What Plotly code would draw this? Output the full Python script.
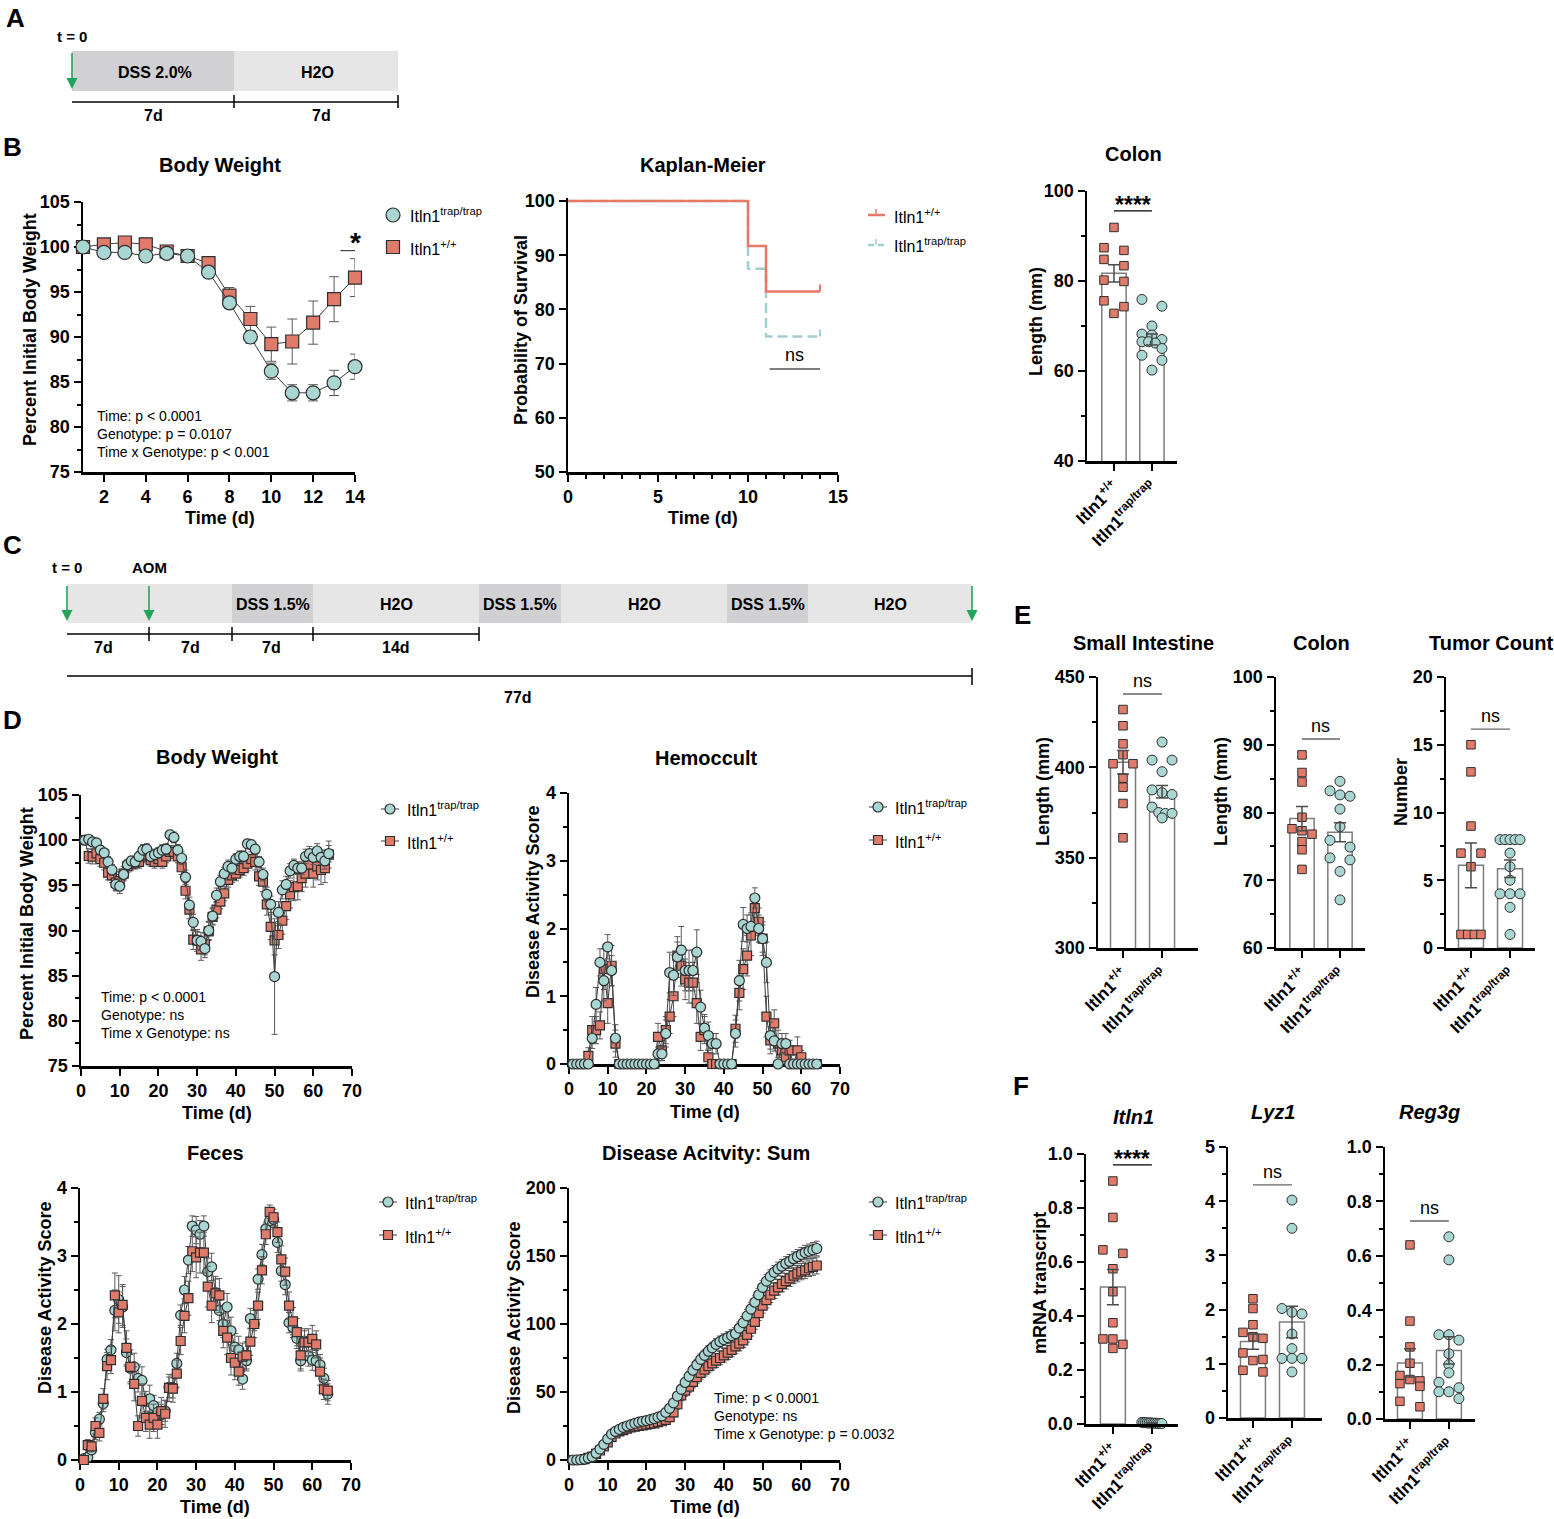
import numpy as np
import plotly.graph_objects as go

W, H = 1554, 1519
FONT = "Liberation Sans"
SALMON = "#E07B6B"
TEAL = "#A9D5D2"
EDGE = "#2E2E2E"
KM_SALMON = "#E5786A"
KM_TEAL = "#A3CFCF"
GREEN = "#22A55B"
DSS_GRAY = "#D1D1D3"
H2O_GRAY = "#E6E6E6"
LINE_GRAY = "#3C3C3C"
ERR_GRAY = "#5A5A5A"

# ====================== DATA ======================
lab_wt = "Itln1<sup>+/+</sup>"
lab_trap = "Itln1<sup>trap/trap</sup>"

# --- B: body weight (DSS 2%) ---
days_b = list(range(1, 15))
bw_b_trap = [100.0, 99.4, 99.4, 99.0, 99.3, 99.0, 97.2, 93.8, 90.0, 86.2, 83.8, 83.8, 84.9, 86.7]
bw_b_trap_sem = [0.2, 0.3, 0.3, 0.3, 0.4, 0.3, 0.5, 0.6, 0.7, 0.9, 0.9, 0.9, 1.4, 1.4]
bw_b_wt = [100.0, 100.3, 100.5, 100.3, 99.5, 99.0, 98.2, 94.6, 92.0, 89.2, 89.5, 91.6, 94.2, 96.6]
bw_b_wt_sem = [0.2, 0.3, 0.4, 0.4, 0.5, 0.4, 0.6, 0.9, 1.4, 1.9, 2.5, 2.4, 2.5, 2.1]

# --- B: Kaplan-Meier ---
km_t = [0, 10, 11, 14]
km_wt = [100.0, 91.7, 83.3, 83.3]
km_trap = [100.0, 87.5, 75.0, 75.0]

# --- B: colon length ---
colonB_wt = [91.9, 86.8, 87.4, 84.8, 83.4, 80.2, 79.9, 75.6, 74.3, 72.8]
colonB_trap = [75.9, 74.4, 70.0, 68.2, 68.0, 67.0, 66.5, 66.5, 66.2, 65.0, 63.5, 62.4, 60.2]
colonB_mean = [81.7, 67.0]
colonB_sem = [1.9, 1.2]

# --- D: AOM/DSS time courses (days 1..64) ---
days_d = list(range(1, 65))
bw_d_trap = [100.0, 100.1, 99.8, 99.7, 98.9, 98.6, 97.6, 96.7, 95.1, 94.9,
             96.2, 97.3, 97.7, 97.6, 98.2, 98.9, 99.0, 98.2, 98.4, 98.6,
             98.9, 99.0, 100.6, 100.3, 98.9, 98.0, 95.9, 92.8, 90.9, 88.9,
             88.8, 88.0, 90.0, 91.6, 93.9, 95.4, 96.3, 97.1, 96.9, 97.9,
             98.2, 98.2, 99.6, 99.5, 99.0, 97.6, 96.2, 94.0, 92.9, 84.9,
             92.0, 94.5, 95.1, 96.6, 97.2, 96.9, 96.9, 98.2, 98.5, 98.1,
             98.8, 98.1, 97.7, 98.5]
bw_d_trap_sem = [0.3, 0.4, 0.4, 0.5, 0.5, 0.5, 0.6, 0.6, 0.7, 0.8,
                 0.6, 0.5, 0.5, 0.5, 0.5, 0.6, 0.6, 0.6, 0.6, 0.6,
                 0.6, 0.6, 0.5, 0.6, 0.6, 0.7, 0.8, 0.9, 0.9, 1.0,
                 1.0, 1.0, 1.0, 0.9, 0.8, 0.7, 0.7, 0.7, 0.7, 0.6,
                 0.6, 0.6, 0.5, 0.5, 0.5, 0.6, 0.7, 0.8, 0.9, 6.4,
                 1.2, 1.0, 0.9, 0.8, 0.7, 0.7, 0.7, 0.8, 0.8, 0.8,
                 0.8, 0.8, 0.9, 0.9]
bw_d_wt = [100.0, 98.25, 98.17, 98.54, 97.9, 97.5, 96.4, 96.1, 95.3, 95.5,
           96.3, 97.1, 97.4, 97.5, 97.6, 98.2, 98.4, 97.8, 97.6, 97.9,
           97.6, 98.2, 98.7, 98.7, 98.2, 97.0, 94.4, 92.3, 89.0, 88.9,
           87.9, 88.5, 89.9, 91.5, 92.3, 93.2, 94.1, 95.6, 96.1, 96.3,
           96.7, 96.9, 97.4, 97.9, 97.6, 96.0, 95.4, 92.9, 90.4, 88.9,
           89.5, 91.1, 92.7, 94.0, 94.8, 94.9, 95.8, 96.3, 97.3, 96.3,
           97.1, 96.7, 96.9, 98.4]
bw_d_wt_sem = [0.0, 0.8, 0.8, 0.8, 0.8, 0.8, 0.8, 0.8, 0.9, 1.0,
               0.8, 0.7, 0.7, 0.7, 0.7, 0.7, 0.7, 0.7, 0.7, 0.7,
               0.7, 0.7, 0.7, 0.7, 0.7, 0.8, 0.9, 1.0, 1.1, 1.2,
               1.2, 1.2, 1.0, 0.9, 0.9, 0.8, 0.8, 0.8, 0.8, 0.8,
               0.8, 0.8, 0.8, 0.8, 0.9, 1.0, 1.1, 1.2, 1.4, 1.6,
               1.5, 1.5, 1.5, 1.5, 1.5, 1.5, 1.5, 1.5, 1.5, 1.5,
               1.5, 1.6, 1.6, 1.5]

hemo_trap = [0, 0, 0, 0, 0, 0.38, 0.88, 1.5, 1.23, 1.73,
             1.38, 0.38, 0, 0, 0, 0, 0, 0, 0, 0,
             0, 0, 0.15, 0.15, 0.45, 1.35, 1.31, 1.58, 1.68, 1.38,
             1.38, 1.38, 1.65, 0.84, 0.53, 0.42, 0.30, 0.30, 0, 0,
             0, 0, 0.45, 1.23, 2.06, 2.0, 2.03, 2.45, 2.0, 1.85,
             1.5, 0.42, 0.34, 0, 0.3, 0.3, 0, 0, 0, 0,
             0, 0, 0, 0]
hemo_trap_sem = [0, 0, 0, 0, 0, 0.15, 0.25, 0.2, 0.3, 0.18,
                 0.22, 0.2, 0, 0, 0, 0, 0, 0, 0, 0,
                 0, 0, 0.1, 0.1, 0.2, 0.3, 0.3, 0.3, 0.35, 0.3,
                 0.3, 0.3, 0.33, 0.25, 0.2, 0.2, 0.15, 0.15, 0, 0,
                 0, 0, 0.2, 0.3, 0.25, 0.2, 0.2, 0.15, 0.2, 0.2,
                 0.3, 0.2, 0.15, 0, 0.15, 0.15, 0, 0, 0, 0,
                 0, 0, 0, 0]
hemo_wt = [0, 0, 0, 0, 0.12, 0.5, 0.5, 0.57, 1.4, 0.9,
           1.45, 0.3, 0, 0, 0, 0, 0, 0, 0, 0,
           0, 0, 0.4, 0.2, 0.5, 0.7, 1.0, 1.6, 1.45, 1.25,
           1.2, 1.2, 0.9, 0.4, 0.5, 0.1, 0, 0, 0, 0,
           0, 0, 0.52, 1.05, 1.4, 1.6, 1.9, 2.3, 2.1, 1.85,
           0.7, 0.35, 0.6, 0.3, 0.2, 0.1, 0.2, 0, 0.2, 0.1,
           0, 0, 0, 0]
hemo_wt_sem = [0, 0, 0, 0, 0.12, 0.2, 0.2, 0.2, 0.3, 0.3,
               0.3, 0.2, 0, 0, 0, 0, 0, 0, 0, 0,
               0, 0, 0.2, 0.15, 0.2, 0.25, 0.3, 0.2, 0.3, 0.3,
               0.3, 0.3, 0.3, 0.2, 0.2, 0.1, 0, 0, 0, 0,
               0, 0, 0.2, 0.25, 0.3, 0.3, 0.3, 0.2, 0.2, 0.25,
               0.3, 0.2, 0.2, 0.2, 0.15, 0.1, 0.15, 0, 0.2, 0.1,
               0, 0, 0, 0]

feces_trap = [0.02, 0.04, 0.15, 0.4, 0.6, 0.83, 1.48, 1.62, 2.2, 2.36,
              2.25, 1.58, 1.35, 1.37, 1.2, 1.17, 0.86, 0.9, 0.8, 0.7,
              0.67, 0.72, 1.07, 1.06, 1.42, 2.13, 2.5, 2.94, 3.44, 3.38,
              3.32, 3.44, 2.77, 2.84, 2.46, 2.2, 2.0, 2.25, 1.9, 1.66,
              1.62, 1.19, 1.46, 2.08, 2.0, 2.66, 3.02, 3.4, 3.52, 3.54,
              3.2, 2.78, 2.58, 2.02, 1.95, 1.79, 1.46, 1.75, 1.53, 1.47,
              1.46, 1.4, 1.2, 0.97]
feces_trap_sem = [0.02, 0.03, 0.05, 0.1, 0.1, 0.12, 0.15, 0.15, 0.3, 0.35,
                  0.3, 0.2, 0.2, 0.2, 0.2, 0.2, 0.15, 0.2, 0.15, 0.15,
                  0.15, 0.15, 0.15, 0.15, 0.15, 0.15, 0.2, 0.2, 0.15, 0.2,
                  0.2, 0.15, 0.2, 0.2, 0.2, 0.15, 0.2, 0.2, 0.2, 0.2,
                  0.2, 0.15, 0.15, 0.15, 0.1, 0.15, 0.15, 0.1, 0.1, 0.1,
                  0.15, 0.15, 0.15, 0.15, 0.15, 0.15, 0.15, 0.15, 0.15, 0.15,
                  0.15, 0.15, 0.15, 0.15]
feces_wt = [0.0, 0.22, 0.2, 0.5, 0.4, 0.9, 1.38, 1.47, 2.42, 2.17,
            2.28, 1.65, 1.37, 1.12, 0.5, 0.87, 0.62, 0.52, 0.62, 0.52,
            0.72, 0.68, 1.06, 1.05, 1.27, 1.75, 2.12, 2.38, 3.07, 2.98,
            3.05, 3.05, 2.55, 2.27, 2.45, 2.42, 1.9, 1.8, 1.5, 1.43,
            1.3, 1.52, 1.54, 1.74, 2.0, 2.27, 2.79, 3.32, 3.65, 3.57,
            3.35, 2.95, 2.77, 2.27, 2.04, 1.88, 1.54, 1.73, 1.73, 1.78,
            1.7, 1.3, 1.04, 1.02]
feces_wt_sem = [0.0, 0.08, 0.08, 0.12, 0.12, 0.15, 0.2, 0.2, 0.33, 0.3,
                0.3, 0.25, 0.25, 0.25, 0.15, 0.25, 0.2, 0.2, 0.2, 0.2,
                0.2, 0.2, 0.2, 0.2, 0.2, 0.2, 0.25, 0.25, 0.3, 0.3,
                0.3, 0.3, 0.3, 0.25, 0.25, 0.25, 0.25, 0.25, 0.25, 0.25,
                0.2, 0.2, 0.2, 0.2, 0.2, 0.2, 0.2, 0.15, 0.1, 0.12,
                0.15, 0.2, 0.2, 0.2, 0.2, 0.2, 0.2, 0.2, 0.2, 0.2,
                0.2, 0.2, 0.15, 0.15]

dai_trap = [0, 0, 0.2, 0.6, 1.5, 2.5, 5, 8, 11.5, 15.5,
            19, 21, 22.5, 24, 25, 26, 27, 27.8, 28.5, 29,
            29.7, 30.5, 31.5, 32.5, 35, 38, 42, 47, 52, 57,
            61.5, 66, 70, 74, 77, 80, 82.5, 85, 87, 88.5,
            90, 91.5, 93, 97, 101, 106, 111, 116, 121.5, 127,
            131.5, 135, 138, 140.5, 142.5, 144.5, 146, 148, 149.5, 151,
            152.5, 153.5, 154.5, 155.5]
dai_trap_sem = [0, 0, 0.1, 0.2, 0.3, 0.5, 0.8, 1.0, 1.2, 1.4,
                1.5, 1.6, 1.7, 1.8, 1.9, 2.0, 2.0, 2.1, 2.1, 2.2,
                2.2, 2.3, 2.3, 2.4, 2.5, 2.7, 2.9, 3.1, 3.3, 3.5,
                3.6, 3.7, 3.8, 3.9, 4.0, 4.1, 4.1, 4.2, 4.2, 4.3,
                4.3, 4.4, 4.4, 4.5, 4.5, 4.6, 4.6, 4.7, 4.7, 4.8,
                4.8, 4.9, 4.9, 5.0, 5.0, 5.0, 5.1, 5.1, 5.2, 5.2,
                5.3, 5.3, 5.4, 5.4]
dai_wt = [0, 0, 0.2, 0.6, 1.5, 2.5, 4.5, 7, 10, 13,
          17, 19.5, 21, 22, 23, 24, 24.5, 25, 25.5, 26,
          26.5, 27, 27.8, 28.5, 29.5, 31.5, 35, 41, 47.5, 51,
          54, 57.5, 61, 64, 66.5, 69, 71, 73, 75, 77,
          79, 81, 83.5, 85.5, 88, 92, 96.5, 101.5, 108, 113.5,
          117.5, 121.5, 124.5, 127, 129.5, 131.5, 133.5, 135.5, 137, 138.5,
          139.5, 141, 142, 143]
dai_wt_sem = [0, 0, 0.1, 0.2, 0.4, 0.6, 0.9, 1.1, 1.4, 1.6,
              1.8, 1.9, 2.0, 2.1, 2.2, 2.3, 2.3, 2.4, 2.4, 2.5,
              2.5, 2.6, 2.6, 2.7, 2.8, 3.0, 3.3, 3.6, 3.9, 4.1,
              4.2, 4.4, 4.5, 4.6, 4.7, 4.8, 4.8, 4.9, 4.9, 5.0,
              5.0, 5.1, 5.1, 5.2, 5.2, 5.3, 5.4, 5.4, 5.5, 5.5,
              5.6, 5.6, 5.7, 5.7, 5.8, 5.8, 5.9, 5.9, 6.0, 6.0,
              6.1, 6.1, 6.2, 6.2]

# --- E: endpoint measurements ---
si_wt = [432, 423, 413, 407, 402, 402, 394, 389, 380, 361]
si_trap = [414, 404, 404, 397.6, 387.5, 386, 385, 378, 375, 374.5, 374.5, 372]
si_mean = [402.8, 386.5]
si_sem = [6.5, 3.5]

colE_wt = [88.5, 85.9, 84.5, 79.3, 77.6, 77.3, 76.8, 75.7, 74.5, 71.6]
colE_trap = [84.6, 83.2, 82.6, 82.4, 80.5, 77.9, 75.9, 74.9, 73.3, 73.0, 71.3, 67.1]
colE_mean = [79.1, 77.1]
colE_sem = [1.8, 1.4]

tum_wt = [15, 13, 9, 7, 7, 6, 1, 1, 1, 1]
tum_trap = [8, 8, 8, 8, 8, 7, 6, 5, 4, 4, 4, 3, 1]
tum_mean = [6.1, 5.85]
tum_sem = [1.65, 0.65]

# --- F: qPCR ---
itln_wt = [0.9, 0.765, 0.645, 0.632, 0.575, 0.49, 0.375, 0.315, 0.315, 0.295, 0.28]
itln_trap = [0.006, 0.005, 0.005, 0.004, 0.004, 0.004, 0.003, 0.003, 0.003, 0.002, 0.002, 0.002]
itln_mean = [0.507, 0.004]
itln_sem = [0.065, 0.001]

lyz_wt = [2.2, 2.02, 1.72, 1.58, 1.5, 1.47, 1.2, 1.08, 1.06, 0.88, 0.85]
lyz_trap = [4.02, 3.5, 2.02, 1.95, 1.92, 1.55, 1.28, 1.1, 1.1, 1.1, 0.85]
lyz_mean = [1.41, 1.77]
lyz_sem = [0.14, 0.29]

reg_wt = [0.64, 0.36, 0.265, 0.205, 0.16, 0.145, 0.14, 0.13, 0.12, 0.065, 0.045]
reg_trap = [0.67, 0.585, 0.31, 0.31, 0.29, 0.24, 0.2, 0.17, 0.135, 0.115, 0.1, 0.1, 0.075]
reg_mean = [0.206, 0.252]
reg_sem = [0.052, 0.05]


# ====================== HELPERS ======================
def PX(x):
    return x / W


def PY(y):
    return 1 - y / H


def fnt(size, bold=True):
    return dict(family=FONT, size=size, color="black", weight="bold" if bold else "normal")


def axis_base():
    return dict(showgrid=False, zeroline=False, showline=True, linecolor="black", linewidth=2.5,
                ticks="outside", ticklen=7, tickwidth=2, tickcolor="black", automargin=False,
                tickfont=fnt(18), fixedrange=True)


def minor(d):
    return dict(ticks="outside", ticklen=4, tickwidth=2, tickcolor="black", dtick=d, showgrid=False)


layout = dict(template="none", width=W, height=H, margin=dict(l=0, r=0, t=0, b=0, pad=0),
              autosize=False, paper_bgcolor="white", plot_bgcolor="rgba(0,0,0,0)", showlegend=False,
              font=dict(family=FONT, color="black"))
traces = []
shapes = []
annots = []


def names(i):
    s = "" if i == 1 else str(i)
    return "xaxis" + s, "yaxis" + s, "x" + s, "y" + s


def add_axes(i, xpx, ypx, xr, yr, xkw, ykw, layer="below traces"):
    xn, yn, xs, ys = names(i)
    xa = axis_base()
    xa.update(domain=[PX(xpx[0]), PX(xpx[1])], range=xr, anchor=ys, layer=layer)
    xa.update(xkw)
    ya = axis_base()
    ya.update(domain=[PY(ypx[1]), PY(ypx[0])], range=yr, anchor=xs, layer=layer)
    ya.update(ykw)
    layout[xn] = xa
    layout[yn] = ya
    return xs, ys


def ann(x, y, text, size, bold=True, xanchor="center", yanchor="middle", angle=0):
    annots.append(dict(x=PX(x), y=PY(y), xref="paper", yref="paper", text=text, showarrow=False,
                       xanchor=xanchor, yanchor=yanchor, textangle=angle, font=fnt(size, bold)))


def pline(x0, y0, x1, y1, color="black", width=1.5, dash=None):
    ln = dict(color=color, width=width)
    if dash:
        ln["dash"] = dash
    shapes.append(dict(type="line", xref="paper", yref="paper", x0=PX(x0), y0=PY(y0),
                       x1=PX(x1), y1=PY(y1), line=ln))


def prect(x0, y0, x1, y1, fill):
    shapes.append(dict(type="rect", xref="paper", yref="paper", x0=PX(x0), y0=PY(y1),
                       x1=PX(x1), y1=PY(y0), fillcolor=fill, line=dict(width=0), layer="below"))


def pcircle(cx, cy, r, fill, lw=1.2):
    shapes.append(dict(type="circle", xref="paper", yref="paper", x0=PX(cx - r), x1=PX(cx + r),
                       y0=PY(cy + r), y1=PY(cy - r), fillcolor=fill, line=dict(color=EDGE, width=lw)))


def psquare(cx, cy, r, fill, lw=1.2):
    shapes.append(dict(type="rect", xref="paper", yref="paper", x0=PX(cx - r), x1=PX(cx + r),
                       y0=PY(cy + r), y1=PY(cy - r), fillcolor=fill, line=dict(color=EDGE, width=lw)))


def arrow_down(x, y0, y1):
    pline(x, y0, x, y1 - 9, GREEN, 1.6)
    path = "M {} {} L {} {} L {} {} Z".format(PX(x - 5.5), PY(y1 - 11), PX(x + 5.5), PY(y1 - 11),
                                               PX(x), PY(y1))
    shapes.append(dict(type="path", xref="paper", yref="paper", path=path, fillcolor=GREEN,
                       line=dict(width=0)))


def ts_trace(xs, ys, x, y, err, sym, fill, size, lw=1.0, cap=3):
    return go.Scatter(x=x, y=y, xaxis=xs, yaxis=ys, mode="lines+markers",
                      line=dict(color=LINE_GRAY, width=lw),
                      marker=dict(symbol=sym, size=size, color=fill, line=dict(color=EDGE, width=1.2)),
                      error_y=dict(type="data", array=err, visible=True, color=ERR_GRAY,
                                   thickness=1, width=cap),
                      cliponaxis=False, showlegend=False, hoverinfo="skip")


def swarm(vals, yppu, thresh=7.5, spread=20.0, maxstep=20.0):
    """GraphPad-like scatter: points with nearly equal values are spread side by side."""
    order = sorted(range(len(vals)), key=lambda j: -vals[j])
    offs = [0.0] * len(vals)
    clusters = []
    for j in order:
        y = vals[j] * yppu
        if clusters and abs(clusters[-1][0] - y) < thresh:
            clusters[-1][1].append(j)
        else:
            clusters.append([y, [j]])
    for _, members in clusters:
        n = len(members)
        if n == 1:
            continue
        step = min(maxstep, spread / (n - 1))
        for k, j in enumerate(members):
            offs[j] = (k - (n - 1) / 2) * step
    return offs


# ====================== PANEL A / C TIMELINES ======================
ann(15, 18, "A", 26)
ann(12, 147, "B", 26)
ann(12, 545, "C", 26)
ann(12, 720, "D", 26)
ann(1022, 615, "E", 26)
ann(1021, 1086, "F", 26)

prect(72, 51, 234, 91, DSS_GRAY)
prect(234, 51, 398, 91, H2O_GRAY)
ann(155, 72, "DSS 2.0%", 16)
ann(317, 72, "H2O", 16)
pline(72, 102, 398, 102)
pline(234, 95, 234, 108)
pline(398, 95, 398, 108)
ann(153, 115, "7d", 16)
ann(321, 115, "7d", 16)
ann(72, 36, "t = 0", 15)
arrow_down(72, 53, 89)

c_segments = [(67, 232, H2O_GRAY, ""), (232, 313, DSS_GRAY, "DSS 1.5%"), (313, 479, H2O_GRAY, "H2O"),
              (479, 561, DSS_GRAY, "DSS 1.5%"), (561, 727, H2O_GRAY, "H2O"),
              (727, 808, DSS_GRAY, "DSS 1.5%"), (808, 972, H2O_GRAY, "H2O")]
for x0, x1, col, txt in c_segments:
    prect(x0, 584, x1, 623, col)
    if txt:
        ann((x0 + x1) / 2, 604, txt, 16)
ann(67, 568, "t = 0", 15)
ann(149, 568, "AOM", 15)
arrow_down(67, 586, 621)
arrow_down(149, 586, 621)
arrow_down(972, 586, 621)
pline(67, 634, 479, 634)
for xt in (149, 232, 313, 479):
    pline(xt, 627, xt, 641)
for xt, txt in ((103, "7d"), (190, "7d"), (271, "7d"), (396, "14d")):
    ann(xt, 647, txt, 16)
pline(67, 676, 972, 676)
pline(972, 668, 972, 685)
ann(518, 697, "77d", 16)

# ====================== B: BODY WEIGHT ======================
xs, ys = add_axes(1, (83, 355), (202, 472), [1, 14], [75, 105],
                  dict(tickmode="linear", tick0=0, dtick=2),
                  dict(tickmode="linear", tick0=75, dtick=5, minor=minor(2.5)))
traces.append(ts_trace(xs, ys, days_b, bw_b_wt, bw_b_wt_sem, "square", SALMON, 13, lw=1.0, cap=5))
traces.append(ts_trace(xs, ys, days_b, bw_b_trap, bw_b_trap_sem, "circle", TEAL, 14, lw=1.0, cap=5))
shapes.append(dict(type="line", xref=xs, yref=ys, x0=13.3, x1=14.65, y0=99.6, y1=99.6,
                   line=dict(color="#444", width=1.2)))
annots.append(dict(x=14, y=99.6, xref=xs, yref=ys, text="*", showarrow=False, yanchor="bottom",
                   yshift=-9, font=fnt(28)))
ann(220, 165, "Body Weight", 20)
ann(220, 518, "Time (d)", 18)
ann(30, 330, "Percent Initial Body Weight", 18, angle=-90)
ann(95, 416, "Time: p < 0.0001", 14, bold=False, xanchor="left")
ann(95, 434, "Genotype: p = 0.0107", 14, bold=False, xanchor="left")
ann(95, 452, "Time x Genotype: p < 0.001", 14, bold=False, xanchor="left")
pcircle(393, 215, 7, TEAL)
psquare(393, 247, 6.5, SALMON)
ann(408, 215, lab_trap, 16, bold=False, xanchor="left")
ann(408, 248, lab_wt, 16, bold=False, xanchor="left")

# ====================== B: KAPLAN-MEIER ======================
# small headroom above 100 so the 100 % lines are not clipped
xs, ys = add_axes(2, (568, 838), (198.3, 472), [0, 15], [50, 100.5],
                  dict(tickmode="linear", tick0=0, dtick=5, minor=minor(1)),
                  dict(tickmode="linear", tick0=50, dtick=10))
traces.append(go.Scatter(x=km_t, y=km_trap, xaxis=xs, yaxis=ys, mode="lines", line_shape="hv",
                         line=dict(color=KM_TEAL, width=2.5, dash="10px,5px"), showlegend=False,
                         hoverinfo="skip", cliponaxis=False))
traces.append(go.Scatter(x=km_t, y=km_wt, xaxis=xs, yaxis=ys, mode="lines", line_shape="hv",
                         line=dict(color=KM_SALMON, width=2.5), showlegend=False,
                         hoverinfo="skip", cliponaxis=False))
for col, series in ((KM_TEAL, km_trap), (KM_SALMON, km_wt)):
    shapes.append(dict(type="line", xref=xs, yref=ys, x0=km_t[-1], x1=km_t[-1],
                       y0=series[-1], y1=series[-1] + 1.3, line=dict(color=col, width=2)))
shapes.append(dict(type="line", xref=xs, yref=ys, x0=11.2, x1=14, y0=69.0, y1=69.0,
                   line=dict(color="black", width=1.2)))
annots.append(dict(x=12.6, y=69.0, xref=xs, yref=ys, text="ns", showarrow=False, yanchor="bottom",
                   yshift=2, font=fnt(18, False)))
ann(703, 165, "Kaplan-Meier", 20)
ann(703, 518, "Time (d)", 18)
ann(521, 330, "Probability of Survival", 18, angle=-90)
pline(868, 215, 885, 215, KM_SALMON, 2.5)
pline(876, 209, 876, 215, KM_SALMON, 1.5)
pline(868, 245, 885, 245, KM_TEAL, 2.5, dash="6px,4px")
pline(876, 239, 876, 245, KM_TEAL, 1.5)
ann(892, 216, lab_wt, 16, bold=False, xanchor="left")
ann(892, 245, lab_trap, 16, bold=False, xanchor="left")

# ====================== BAR PANELS ======================
bar_cfg = [
    dict(i=3, wt=colonB_wt, trap=colonB_trap, mean=colonB_mean, sem=colonB_sem,
         xpx=(1087, 1177), ypx=(191, 461), xr=[-0.71, 1.66], yr=[40, 100], dt=20, mn=10,
         sy=95.6, st="****", fmt=None),
    dict(i=8, wt=si_wt, trap=si_trap, mean=si_mean, sem=si_sem,
         xpx=(1098, 1198), ypx=(677, 948), xr=[-0.64, 1.92], yr=[300, 450], dt=50, mn=25,
         sy=440.6, st="ns", fmt=None),
    dict(i=9, wt=colE_wt, trap=colE_trap, mean=colE_mean, sem=colE_sem,
         xpx=(1276, 1365), ypx=(677, 948), xr=[-0.684, 1.658], yr=[60, 100], dt=10, mn=5,
         sy=90.85, st="ns", fmt=None),
    dict(i=10, wt=tum_wt, trap=tum_trap, mean=tum_mean, sem=tum_sem,
         xpx=(1446, 1535), ypx=(677, 948), xr=[-0.64, 1.64], yr=[0, 20], dt=5, mn=2.5,
         sy=16.16, st="ns", fmt=None),
    dict(i=11, wt=itln_wt, trap=itln_trap, mean=itln_mean, sem=itln_sem,
         xpx=(1086, 1178), ypx=(1154, 1424), xr=[-0.69, 1.67], yr=[0, 1], dt=0.2, mn=0.1,
         sy=0.96, st="****", fmt=".1f"),
    dict(i=12, wt=lyz_wt, trap=lyz_trap, mean=lyz_mean, sem=lyz_sem,
         xpx=(1228, 1322), ypx=(1147, 1418), xr=[-0.64, 1.77], yr=[0, 5], dt=1, mn=0.5,
         sy=4.30, st="ns", fmt=None),
    dict(i=13, wt=reg_wt, trap=reg_trap, mean=reg_mean, sem=reg_sem,
         xpx=(1385, 1475), ypx=(1147, 1419), xr=[-0.64, 1.67], yr=[0, 1], dt=0.2, mn=0.1,
         sy=0.728, st="ns", fmt=".1f"),
]

for c in bar_cfg:
    ykw = dict(tickmode="linear", tick0=c["yr"][0], dtick=c["dt"], minor=minor(c["mn"]))
    if c["fmt"]:
        ykw["tickformat"] = c["fmt"]
    xs, ys = add_axes(c["i"], c["xpx"], c["ypx"], c["xr"], c["yr"],
                      dict(tickmode="array", tickvals=[0, 1], ticktext=[lab_wt, lab_trap],
                           tickangle=-45, tickfont=fnt(17)),
                      ykw, layer="above traces")
    xppu = (c["xpx"][1] - c["xpx"][0]) / (c["xr"][1] - c["xr"][0])
    yppu = (c["ypx"][1] - c["ypx"][0]) / (c["yr"][1] - c["yr"][0])
    traces.append(go.Bar(x=[0, 1], y=c["mean"], xaxis=xs, yaxis=ys, width=0.64,
                         marker=dict(color="white", line=dict(color="#7D7D7D", width=1.5)),
                         showlegend=False, hoverinfo="skip"))
    ow = swarm(c["wt"], yppu)
    ot = swarm(c["trap"], yppu)
    traces.append(go.Scatter(x=[o / xppu for o in ow], y=c["wt"], xaxis=xs, yaxis=ys, mode="markers",
                             marker=dict(symbol="square", size=8.5, color=SALMON,
                                         line=dict(color=EDGE, width=1)),
                             showlegend=False, hoverinfo="skip", cliponaxis=False))
    traces.append(go.Scatter(x=[1 + o / xppu for o in ot], y=c["trap"], xaxis=xs, yaxis=ys,
                             mode="markers",
                             marker=dict(symbol="circle", size=10, color=TEAL,
                                         line=dict(color=EDGE, width=1)),
                             showlegend=False, hoverinfo="skip", cliponaxis=False))
    traces.append(go.Scatter(x=[0, 1], y=c["mean"], xaxis=xs, yaxis=ys, mode="markers",
                             marker=dict(size=1, color="rgba(0,0,0,0)"),
                             error_y=dict(type="data", array=c["sem"], color="#4A4A4A",
                                          thickness=1.5, width=6),
                             showlegend=False, hoverinfo="skip", cliponaxis=False))
    is_ns = c["st"] == "ns"
    shapes.append(dict(type="line", xref=xs, yref=ys, x0=0, x1=1, y0=c["sy"], y1=c["sy"],
                       line=dict(color="#666" if is_ns else "black", width=1.3)))
    annots.append(dict(x=0.5, y=c["sy"], xref=xs, yref=ys, text=c["st"], showarrow=False,
                       yanchor="bottom", yshift=1 if is_ns else -9,
                       font=fnt(18 if is_ns else 23, bold=not is_ns)))

ann(1133, 154, "Colon", 20)
ann(1036, 322, "Length (mm)", 18, angle=-90)
ann(1143, 643, "Small Intestine", 20)
ann(1321, 643, "Colon", 20)
ann(1491, 643, "Tumor Count", 20)
ann(1043, 792, "Length (mm)", 18, angle=-90)
ann(1221, 792, "Length (mm)", 18, angle=-90)
ann(1401, 792, "Number", 18, angle=-90)
ann(1133, 1117, "<i>Itln1</i>", 20)
ann(1273, 1112, "<i>Lyz1</i>", 20)
ann(1429, 1112, "<i>Reg3g</i>", 20)
ann(1040, 1283, "mRNA transcript", 18, angle=-90)

# ====================== D: TIME COURSES ======================
ts_cfg = [
    dict(i=4, wt=bw_d_wt, wte=bw_d_wt_sem, tr=bw_d_trap, tre=bw_d_trap_sem,
         xpx=(81, 352), ypx=(795, 1066), yr=[75, 105], dt=5, mn=2.5, sq_top=False,
         title=("Body Weight", 217, 757), xt=(217, 1113),
         yt=("Percent Initial Body Weight", 27, 924), leg=(390, 809, 841)),
    dict(i=5, wt=hemo_wt, wte=hemo_wt_sem, tr=hemo_trap, tre=hemo_trap_sem,
         xpx=(569, 840), ypx=(793, 1064), yr=[0, 4], dt=1, mn=0.5, sq_top=False,
         title=("Hemoccult", 706, 758), xt=(705, 1112),
         yt=("Disease Activity Score", 533, 902), leg=(878, 807, 840)),
    dict(i=6, wt=feces_wt, wte=feces_wt_sem, tr=feces_trap, tre=feces_trap_sem,
         xpx=(80, 351), ypx=(1188, 1460), yr=[0, 4], dt=1, mn=0.5, sq_top=True,
         title=("Feces", 215, 1153), xt=(215, 1507),
         yt=("Disease Activity Score", 45, 1298), leg=(388, 1202, 1235)),
    dict(i=7, wt=dai_wt, wte=dai_wt_sem, tr=dai_trap, tre=dai_trap_sem,
         xpx=(569, 840), ypx=(1188, 1460), yr=[0, 200], dt=50, mn=25, sq_top=False,
         title=("Disease Acitvity: Sum", 706, 1153), xt=(705, 1507),
         yt=("Disease Activity Score", 514, 1318), leg=(878, 1202, 1235)),
]
for c in ts_cfg:
    xs, ys = add_axes(c["i"], c["xpx"], c["ypx"], [0, 70], c["yr"],
                      dict(tickmode="linear", tick0=0, dtick=10),
                      dict(tickmode="linear", tick0=c["yr"][0], dtick=c["dt"], minor=minor(c["mn"])))
    tw = ts_trace(xs, ys, days_d, c["wt"], c["wte"], "square", SALMON, 9)
    tt = ts_trace(xs, ys, days_d, c["tr"], c["tre"], "circle", TEAL, 10)
    traces.extend([tt, tw] if c["sq_top"] else [tw, tt])
    ann(c["title"][1], c["title"][2], c["title"][0], 20)
    ann(c["xt"][0], c["xt"][1], "Time (d)", 18)
    ann(c["yt"][1], c["yt"][2], c["yt"][0], 18, angle=-90)
    lx, ly1, ly2 = c["leg"]
    pline(lx - 9, ly1, lx + 9, ly1, LINE_GRAY, 1)
    pcircle(lx, ly1, 5, TEAL)
    pline(lx - 9, ly2, lx + 9, ly2, LINE_GRAY, 1)
    psquare(lx, ly2, 4.5, SALMON)
    ann(lx + 15, ly1, lab_trap, 16, bold=False, xanchor="left")
    ann(lx + 15, ly2 + 1, lab_wt, 16, bold=False, xanchor="left")

ann(99, 997, "Time: p < 0.0001", 14, bold=False, xanchor="left")
ann(99, 1015, "Genotype: ns", 14, bold=False, xanchor="left")
ann(99, 1033, "Time x Genotype: ns", 14, bold=False, xanchor="left")
ann(712, 1398, "Time: p < 0.0001", 14, bold=False, xanchor="left")
ann(712, 1416, "Genotype: ns", 14, bold=False, xanchor="left")
ann(712, 1434, "Time x Genotype: p = 0.0032", 14, bold=False, xanchor="left")

layout["shapes"] = shapes
layout["annotations"] = annots
fig = go.Figure(data=traces, layout=layout)
fig.write_html("out.html", config={"displayModeBar": False, "staticPlot": True},
               post_script="document.body.style.margin='0px';document.body.style.padding='0px';")
